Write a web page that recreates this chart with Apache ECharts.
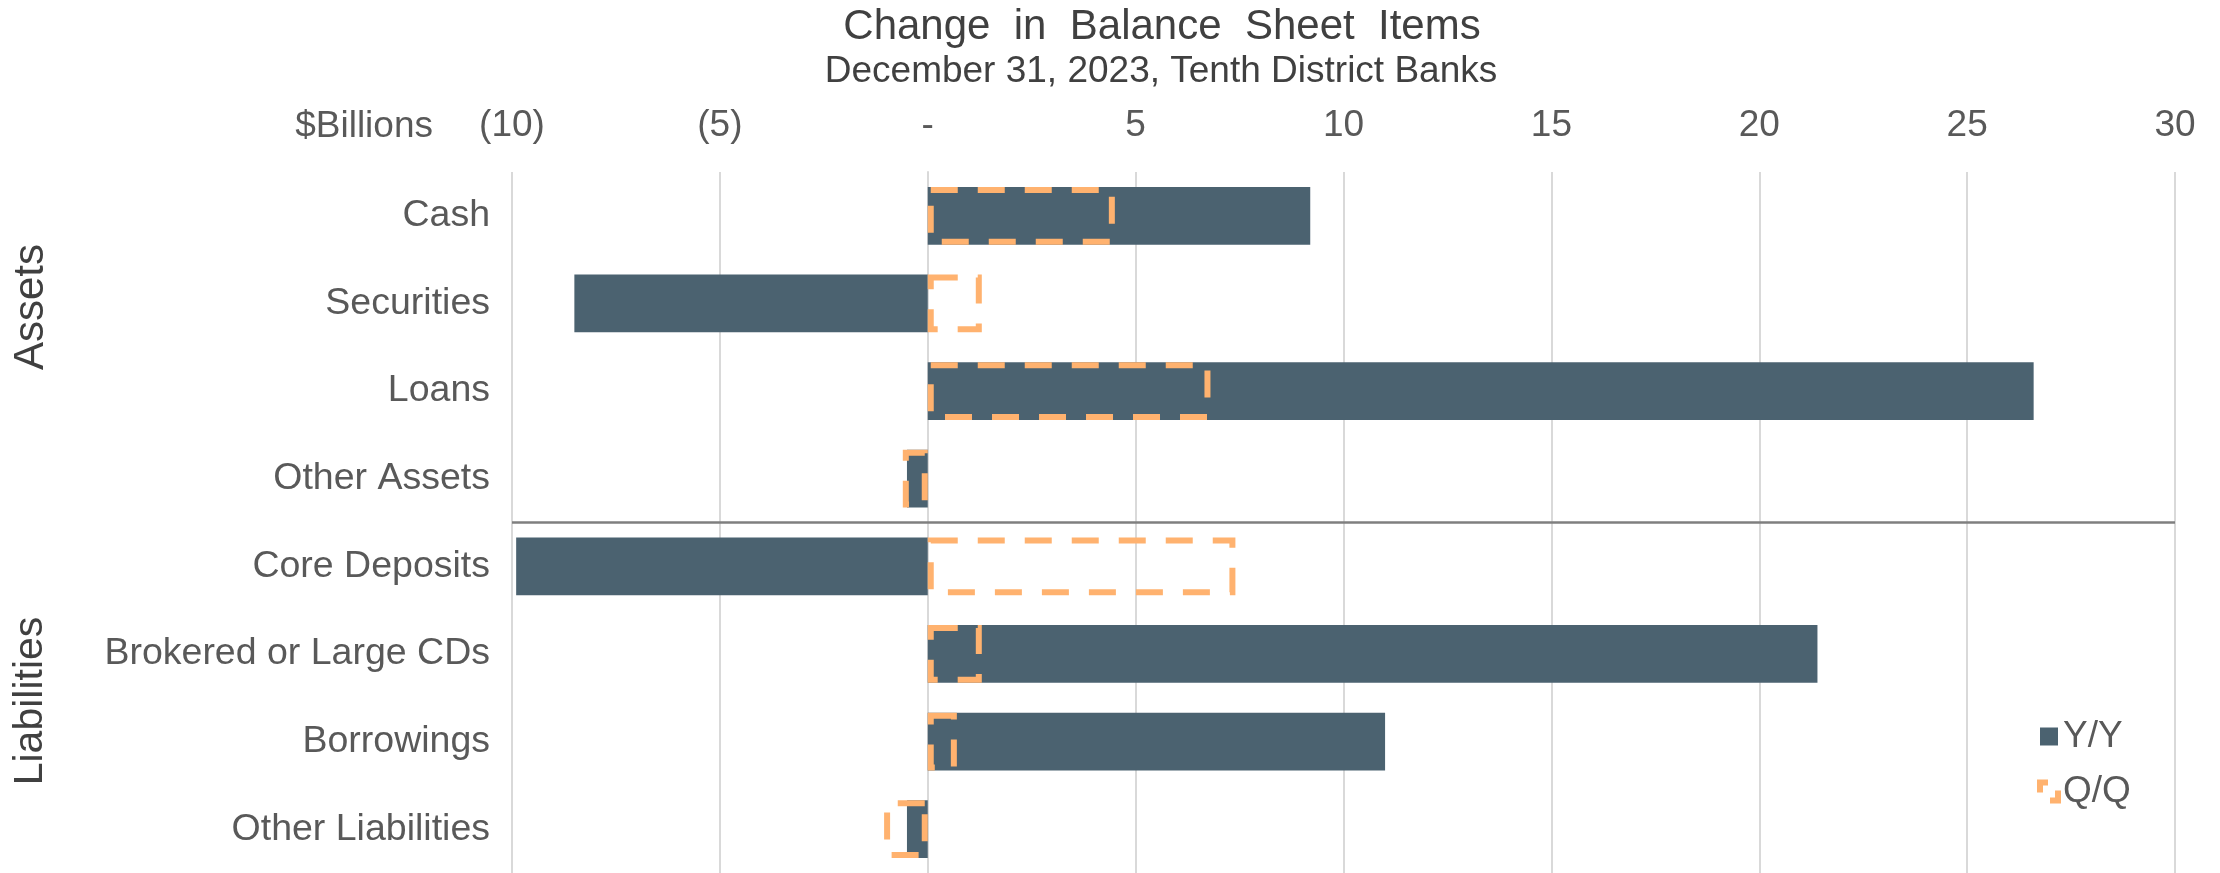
<!DOCTYPE html>
<html>
<head>
<meta charset="utf-8">
<script src="https://cdn.jsdelivr.net/npm/echarts@6/dist/echarts.min.js"></script>
<style>
html, body { margin: 0; padding: 0; background: #fff; }
#main { width: 2220px; height: 873px; }
</style>
</head>
<body>
<div id="main"></div>
<script>
// data ($ billions)
var categories = ['Cash', 'Securities', 'Loans', 'Other Assets', 'Core Deposits', 'Brokered or Large CDs', 'Borrowings', 'Other Liabilities']
var yearOverYear = [9.2, -8.5, 26.6, -0.5, -9.9, 21.4, 11.0, -0.5]
var quarterOverQuarter = [4.5, 1.3, 6.8, -0.6, 7.4, 1.3, 0.7, -1.05]
var xTicks = [-10, -5, 0, 5, 10, 15, 20, 25, 30]
var xTickText = ['(10)', '(5)', '-', '5', '10', '15', '20', '25', '30']

var font = "'Liberation Sans', Arial, sans-serif"
var labelColor = '#595959'
var darkText = '#404040'
var barColor = '#4b6270'
var orange = '#ffb26f'

var chart = echarts.init(document.getElementById('main'))

var option = {
  animation: false,
  backgroundColor: '#fff',
  grid: { left: 512, right: 45, top: 172, height: 704 },
  legend: {
    orient: 'vertical',
    left: 2032,
    top: 713,
    icon: 'rect',
    itemWidth: 18,
    itemHeight: 18,
    itemGap: 18,
    textStyle: { fontSize: 37, color: labelColor, fontFamily: font },
    data: [
      { name: 'Y/Y' },
      { name: 'Q/Q', itemStyle: { borderWidth: 6, borderType: [18, 18], borderDashOffset: 10 } }
    ]
  },
  xAxis: {
    type: 'value',
    position: 'top',
    min: -10,
    max: 30,
    interval: 5,
    axisLine: { show: false },
    axisTick: { show: false },
    splitLine: { lineStyle: { color: '#d9d9d9', width: 2 } },
    axisLabel: {
      margin: 28,
      color: labelColor,
      fontSize: 37,
      fontFamily: font,
      formatter: function (v) {
        var i = xTicks.indexOf(v)
        return i >= 0 ? xTickText[i] : ''
      }
    }
  },
  yAxis: [
    {
      type: 'category',
      data: categories,
      inverse: true,
      axisLine: { onZero: true, lineStyle: { color: '#d9d9d9', width: 2 } },
      axisTick: { length: 11, lineStyle: { color: '#d9d9d9', width: 2 } },
      axisLabel: { show: false }
    },
    {
      type: 'category',
      data: categories,
      inverse: true,
      position: 'left',
      axisLine: { show: false, onZero: false },
      axisTick: { show: false },
      axisLabel: { margin: 22, color: labelColor, fontSize: 37.5, fontFamily: font, padding: [6, 0, 0, 0] }
    }
  ],
  series: [
    {
      name: 'Y/Y',
      type: 'bar',
      data: yearOverYear,
      barWidth: '66%',
      itemStyle: { color: barColor }
    },
    {
      name: 'Q/Q',
      type: 'bar',
      data: quarterOverQuarter,
      barWidth: '66%',
      barGap: '-100%',
      itemStyle: {
        color: 'rgba(0,0,0,0)',
        borderColor: orange,
        borderWidth: 6,
        borderType: [27, 20]
      }
    }
  ]
}
chart.setOption(option)

// separator between assets and liabilities, placed from the axis scales
var yA = chart.convertToPixel({ yAxisIndex: 0 }, 'Other Assets')
var yB = chart.convertToPixel({ yAxisIndex: 0 }, 'Core Deposits')
var sepY = (yA + yB) / 2
var xL = chart.convertToPixel({ xAxisIndex: 0 }, -10)
var xR = chart.convertToPixel({ xAxisIndex: 0 }, 30)

chart.setOption({
  graphic: [
    {
      type: 'line',
      shape: { x1: xL, y1: sepY, x2: xR, y2: sepY },
      style: { stroke: '#7f7f7f', lineWidth: 2.5 },
      z: 10
    },
    {
      type: 'text', x: 1162, y: 27,
      style: { text: 'Change  in  Balance  Sheet  Items', font: '42px ' + font, fill: darkText, align: 'center', verticalAlign: 'middle' }
    },
    {
      type: 'text', x: 1161, y: 72,
      style: { text: 'December 31, 2023, Tenth District Banks', font: '37px ' + font, fill: darkText, align: 'center', verticalAlign: 'middle' }
    },
    {
      type: 'text', x: 433, y: 127,
      style: { text: '$Billions', font: '37px ' + font, fill: labelColor, align: 'right', verticalAlign: 'middle' }
    },
    {
      type: 'text', x: 31, y: 307, rotation: Math.PI / 2,
      style: { text: 'Assets', font: '42px ' + font, fill: darkText, align: 'center', verticalAlign: 'middle' }
    },
    {
      type: 'text', x: 31, y: 701, rotation: Math.PI / 2,
      style: { text: 'Liabilities', font: '41px ' + font, fill: darkText, align: 'center', verticalAlign: 'middle' }
    }
  ]
})
</script>
</body>
</html>
